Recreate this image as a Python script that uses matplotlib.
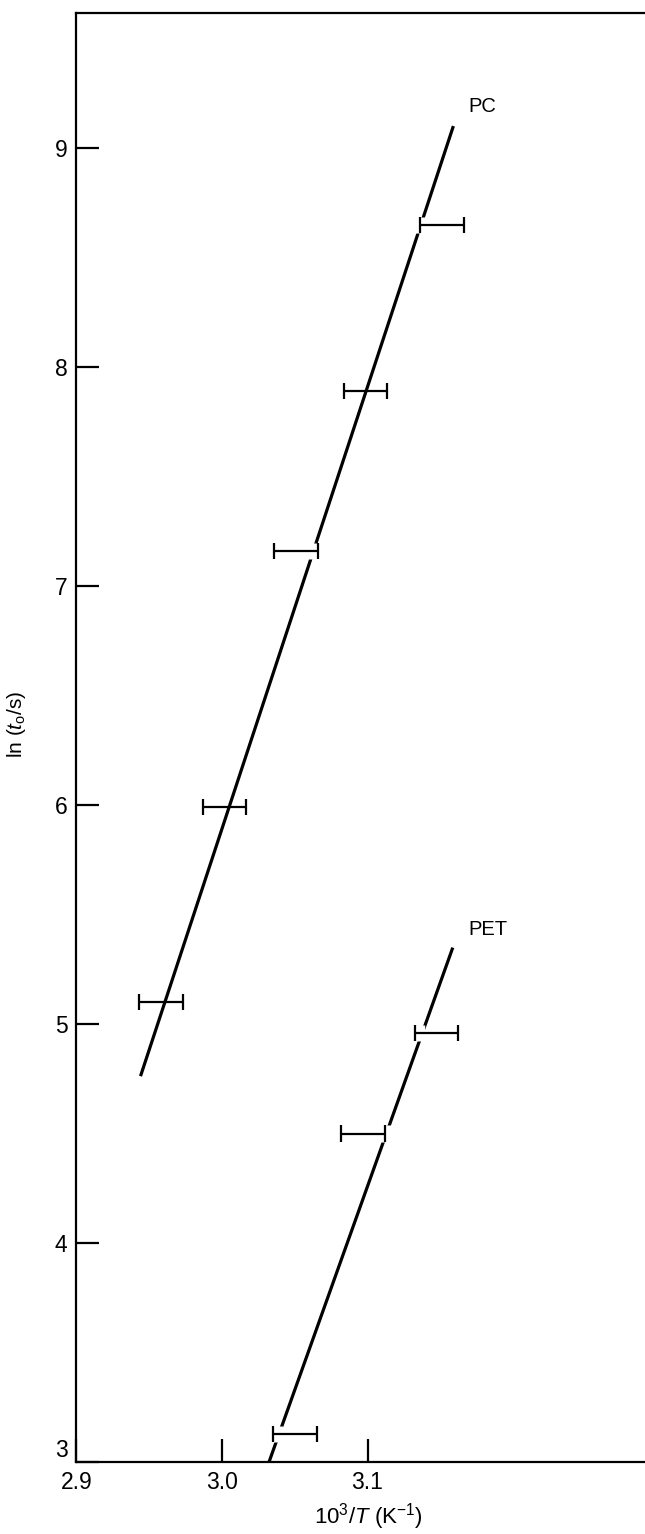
import matplotlib
matplotlib.use("Agg")
import matplotlib.pyplot as plt
import matplotlib.patheffects as pe

plt.rcParams['font.family'] = ['Liberation Sans', 'DejaVu Sans']
plt.rcParams['mathtext.fontset'] = 'custom'
plt.rcParams['mathtext.rm'] = 'Liberation Sans'
plt.rcParams['mathtext.it'] = 'Liberation Sans:italic'

# measured points (1000/T, ln t0) with spread in 1000/T
pc_x = [2.958, 3.0016, 3.0509, 3.0986, 3.151]
pc_y = [5.10, 5.99, 7.16, 7.89, 8.65]
pc_err = [0.015, 0.015, 0.015, 0.015, 0.015]

pet_x = [3.050, 3.0969, 3.1473]
pet_y = [3.13, 4.50, 4.96]
pet_err = [0.015, 0.015, 0.015]

# straight-line fits, drawn between these end points
pc_fit_x = [2.944, 3.159]
pc_fit_y = [4.762, 9.10]
pet_fit_x = [3.0323, 3.1586]
pet_fit_y = [3.00, 5.349]

x_ticks = [2.9, 3.0, 3.1]
y_ticks = [3, 4, 5, 6, 7, 8, 9]


def draw_set(ax, x, y, err, fit_x, fit_y, name, label_y):
    ax.plot(fit_x, fit_y, color='black', lw=2.3, solid_capstyle='butt', zorder=1)
    line, caps, bars = ax.errorbar(x, y, xerr=err, fmt='none', ecolor='black',
                                   elinewidth=1.6, capsize=5.8, capthick=1.6)
    # caps knock a small gap out of the fit line where they cross it
    for cap in caps:
        cap.set_zorder(1.5)
        cap.set_path_effects([pe.withStroke(linewidth=14, foreground='white')])
    for b in bars:
        b.set_zorder(2)
    ax.text(3.169, label_y, name, fontsize=14.5, ha='left', va='center')


fig = plt.figure(figsize=(6.45, 15.34), dpi=100)
ax = fig.add_axes([0.1186, 0.0469, 0.8814, 0.9446])

draw_set(ax, pc_x, pc_y, pc_err, pc_fit_x, pc_fit_y, 'PC', 9.19)
draw_set(ax, pet_x, pet_y, pet_err, pet_fit_x, pet_fit_y, 'PET', 5.433)

ax.set_xlim(2.9, 3.2907)
ax.set_ylim(3.0, 9.616)
ax.set_xticks(x_ticks)
ax.set_xticklabels(['2.9', '3.0', '3.1'])
ax.set_yticks(y_ticks)
ax.tick_params(direction='in', length=16.5, width=1.6, labelsize=16.5, pad=6.5)
# lowest y label sits above the corner so it clears the 2.9
ax.get_yticklabels()[0].set_verticalalignment('bottom')

ax.spines['right'].set_visible(False)
for s in ['left', 'top', 'bottom']:
    ax.spines[s].set_linewidth(1.6)

ax.set_xlabel(r'$10^3/T$ (K$^{-1}$)', fontsize=16)
ax.xaxis.set_label_coords(0.513, -0.027)
ax.set_ylabel(r'ln ($t_{\rm o}$/s)', fontsize=15)
ax.yaxis.set_label_coords(-0.085, 0.509)

fig.savefig('out.png', dpi=100)
